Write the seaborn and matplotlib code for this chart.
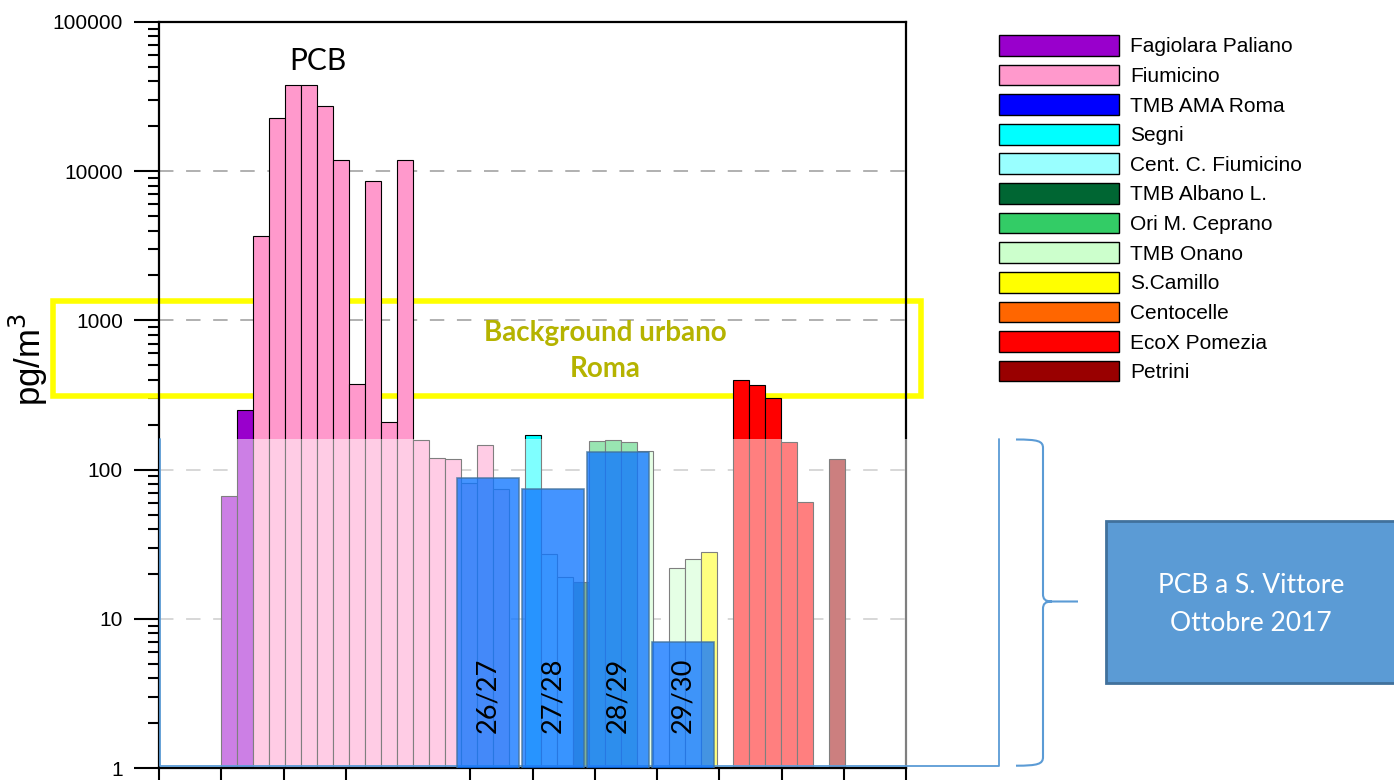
import numpy as np
import pandas as pd
import matplotlib
matplotlib.use("Agg")
import matplotlib.pyplot as plt
import matplotlib.transforms as mtransforms
from matplotlib.patches import Rectangle, Patch, PathPatch
from matplotlib.path import Path
from matplotlib.lines import Line2D
from matplotlib.ticker import LogLocator, NullFormatter
import seaborn as sns

nan = np.nan

# Sampling sites (legend order) and their colours
sites = ["Fagiolara Paliano", "Fiumicino", "TMB AMA Roma", "Segni",
         "Cent. C. Fiumicino", "TMB Albano L.", "Ori M. Ceprano", "TMB Onano",
         "S.Camillo", "Centocelle", "EcoX Pomezia", "Petrini"]
site_colors = ["#9900CC", "#FF99CC", "#0000FF", "#00FFFF", "#99FFFF", "#006633",
               "#33CC66", "#CCFFCC", "#FFFF00", "#FF6600", "#FF0000", "#990000"]

# PCB concentrations in pg/m3 for each site; NaN marks an empty slot
fagiolara_paliano = [67, 252]
fiumicino = [3700, 22900, 37600, 37600, 27200, 11800, 377, 8650, 210, 11950,
             157, 120, 117, 81, 147, 74, nan]
tmb_ama_roma = []
segni = [170]
cent_c_fiumicino = [27, 19.2]
tmb_albano = [17.6]
ori_ceprano = [156, 159, 154]
tmb_onano = [133, nan, 22, 25]
s_camillo = [28.2, nan]
centocelle = []
ecox_pomezia = [397, 371, 302, 152, 61, nan]
petrini = [118]

# S. Vittore campaign, October 2017 (daily samples)
sv_days = ["26/27", "27/28", "28/29", "29/30"]
sv_values = [88.4, 74.6, 131, 7.03]

y_ticks = [1, 10, 100, 1000, 10000, 100000]

series = [fagiolara_paliano, fiumicino, tmb_ama_roma, segni, cent_c_fiumicino,
          tmb_albano, ori_ceprano, tmb_onano, s_camillo, centocelle,
          ecox_pomezia, petrini]

rows = []
slot = 0
for site, vals in zip(sites, series):
    for v in vals:
        rows.append({"slot": slot, "site": site, "value": v})
        slot += 1
df = pd.DataFrame(rows).dropna()

W, H = 1394, 782
sns.set_style("ticks")
plt.rcParams["font.family"] = ["Liberation Sans", "DejaVu Sans"]
plt.rcParams["text.color"] = "black"
plt.rcParams["axes.labelcolor"] = "black"
plt.rcParams["xtick.color"] = "black"
plt.rcParams["ytick.color"] = "black"

fig = plt.figure(figsize=(W / 100, H / 100), dpi=100)
fig.patch.set_facecolor("white")
ax = fig.add_axes([159 / W, 1 - 768 / H, (906 - 159) / W, (768 - 22) / H])
ax.set_yscale("log")

pix = mtransforms.Affine2D().scale(1.0 / W, -1.0 / H).translate(0, 1) + fig.transFigure

# site bars
sns.barplot(data=df, x="slot", y="value", hue="site",
            palette=dict(zip(sites, site_colors)), native_scale=True,
            dodge=False, width=1.0, saturation=1, errorbar=None,
            edgecolor="black", linewidth=0.8, legend=False, ax=ax, zorder=1)

# urban background band
ax.add_artist(Rectangle((53, 301), 921 - 53, 395.5 - 301, transform=pix,
                        fill=False, edgecolor="#FFFF00", linewidth=4.0,
                        zorder=0.9, clip_on=False))

# translucent panel for the S. Vittore comparison
ax.add_artist(Rectangle((160, 439), 999.3 - 160, 766 - 439, transform=pix,
                        facecolor="white", alpha=0.5, edgecolor="none",
                        zorder=3, clip_on=False))
ax.add_artist(Line2D([160, 160, 999.3, 999.3], [439, 766, 766, 439],
                     transform=pix, color="#5B9BD5", linewidth=1.3,
                     zorder=3.1, clip_on=False))

# S. Vittore bars
sv_x = 16.2 + 4.06 * np.arange(len(sv_values))
sv = pd.DataFrame({"x": sv_x, "value": sv_values, "day": sv_days})
sns.barplot(data=sv, x="x", y="value", native_scale=True, width=0.953,
            color="#0F76FF", saturation=1, errorbar=None, alpha=0.78,
            edgecolor="#41719C", linewidth=1.2, ax=ax, zorder=4)
for xc, day in zip(sv_x, sv_days):
    ax.text(xc, 3.05, day, rotation=90, ha="center", va="center",
            fontsize=19.5, family="Lato", color="black", zorder=6)

# axes
xlo, xhi = -4.375, 42.3125
ax.set_xlim(xlo, xhi)
ax.set_ylim(1, 100000)
xt = list(np.linspace(xlo, xhi, 13))
del xt[4]
ax.set_xticks(xt)
ax.set_xticklabels([])
ax.set_xlabel("")
ax.set_ylabel("")
ax.set_yticks(y_ticks)
ax.set_yticklabels([str(v) for v in y_ticks])
ax.yaxis.set_minor_locator(LogLocator(base=10, subs=np.arange(2, 10)))
ax.yaxis.set_minor_formatter(NullFormatter())
ax.tick_params(axis="y", which="major", length=18, width=1.5, pad=8,
               labelsize=15, direction="out", colors="black")
ax.tick_params(axis="y", which="minor", length=8, width=1.5, direction="out")
ax.tick_params(axis="x", which="major", length=8.5, width=1.5, direction="out")
for s in ax.spines.values():
    s.set_visible(True)
    s.set_color("black")
    s.set_linewidth(1.6)
ax.set_axisbelow(True)
ax.yaxis.grid(True, which="major", color="#AAAAAA", linestyle=(0, (8, 7)),
              linewidth=1.3)
ax.set_facecolor("none")

# texts
fig.text(318 / W, 1 - 70 / H, "PCB", ha="center", va="baseline",
         fontsize=21.5, family="Lato")
fig.text(605.5 / W, 1 - 341 / H, "Background urbano", ha="center",
         va="baseline", fontsize=20, family="Lato", fontweight="bold",
         color="#B5B300")
fig.text(605.5 / W, 1 - 377 / H, "Roma", ha="center", va="baseline",
         fontsize=20, family="Lato", fontweight="bold", color="#B5B300")
fig.text(28 / W, 1 - 360 / H, "pg/m$^3$", rotation=90, ha="center",
         va="center", fontsize=25)

# brace pointing to the caption box
brace = Path(
    [(1016, 439.5), (1038, 439.5), (1043, 441), (1043, 448),
     (1043, 594),
     (1043, 599), (1045, 601.5), (1052, 601.5),
     (1078, 601.5),
     (1052, 601.5),
     (1045, 601.5), (1043, 604), (1043, 609),
     (1043, 757),
     (1043, 764), (1038, 765.7), (1016, 765.7)],
    [Path.MOVETO, Path.CURVE4, Path.CURVE4, Path.CURVE4,
     Path.LINETO,
     Path.CURVE4, Path.CURVE4, Path.CURVE4,
     Path.LINETO,
     Path.MOVETO,
     Path.CURVE4, Path.CURVE4, Path.CURVE4,
     Path.LINETO,
     Path.CURVE4, Path.CURVE4, Path.CURVE4])
fig.add_artist(PathPatch(brace, transform=pix, fill=False,
                         edgecolor="#5B9BD5", linewidth=1.5))

fig.add_artist(Rectangle((1105.7, 520.7), 300, 682.7 - 520.7, transform=pix,
                         facecolor="#5B9BD5", edgecolor="#41719C",
                         linewidth=2))
fig.text(1251 / W, 1 - 593.3 / H, "PCB a S. Vittore", ha="center",
         va="baseline", fontsize=19, family="Lato", color="white")
fig.text(1251 / W, 1 - 630.7 / H, "Ottobre 2017", ha="center",
         va="baseline", fontsize=19, family="Lato", color="white")

# legend
fs = 15
px_per_em = fs * 100 / 72
handles = [Patch(facecolor=c, edgecolor="black", linewidth=1.0)
           for c in site_colors]
fig.legend(handles, sites, loc="upper left",
           bbox_to_anchor=(999 / W, 1 - 35 / H), frameon=False,
           borderpad=0, borderaxespad=0, fontsize=fs,
           handlelength=120 / px_per_em, handleheight=24 / px_per_em,
           handletextpad=11 / px_per_em,
           labelspacing=(29.6 - 24) / px_per_em + 0.125)

fig.savefig("out.png", dpi=100, facecolor="white")
